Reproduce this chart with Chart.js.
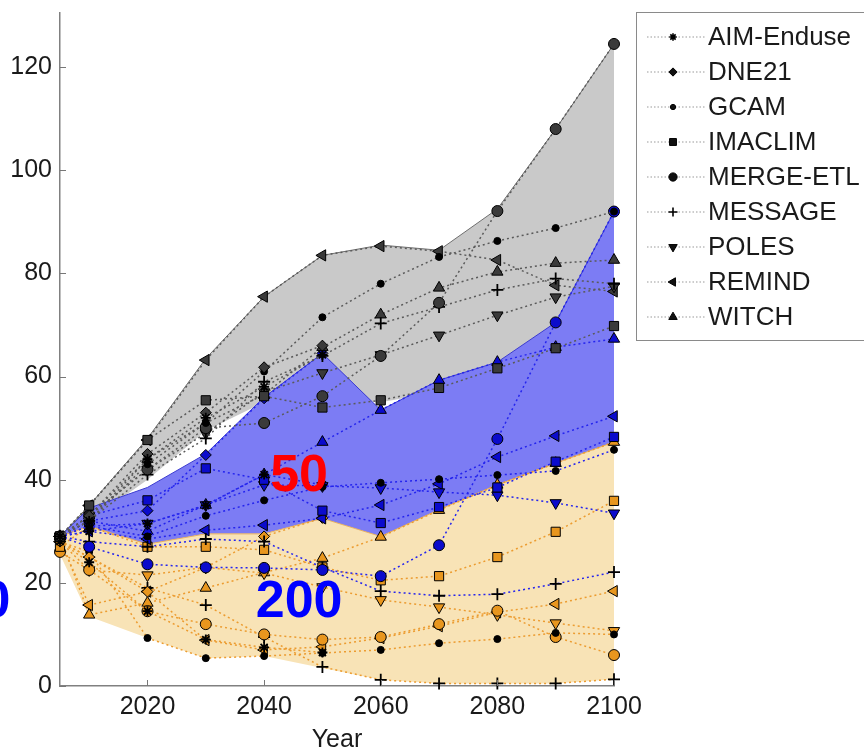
<!DOCTYPE html>
<html>
<head>
<meta charset="utf-8">
<script src="https://cdn.jsdelivr.net/npm/chart.js@4.4.1/dist/chart.umd.min.js"></script>
<style>
  html, body { margin: 0; padding: 0; background: #fff; }
  #wrap { width: 864px; height: 755px; position: relative; }
</style>
</head>
<body>
<div id="wrap"><canvas id="emChart"></canvas></div>
<script>
const years = [2005, 2010, 2020, 2030, 2040, 2050, 2060, 2070, 2080, 2090, 2100];
const xTicks = [2020, 2040, 2060, 2080, 2100];
const yTicks = [0, 20, 40, 60, 80, 100, 120];
const models = ['AIM-Enduse', 'DNE21', 'GCAM', 'IMACLIM', 'MERGE-ETL', 'MESSAGE', 'POLES', 'REMIND', 'WITCH'];

// shaded ranges
const greyUpper   = [29, 35, 48, 63.5, 75.5, 83.5, 85.5, 84.5, 92.5, 108, 124.5];
const greyLower   = [29, 32, 40, 49.5, 55, 56, 55, 57, 60, 64, 68];
const blueUpper   = [29, 34.5, 38.5, 45, 56, 64.5, 53.5, 59.3, 62.8, 70.5, 92];
const blueLower   = [29, 30, 27.5, 29.5, 29.5, 32.5, 29, 34.2, 39, 43.2, 47.3];
const orangeUpper = [29, 31, 27.5, 29.5, 29.5, 32.5, 29, 34.2, 39, 43.2, 47.3];
const orangeLower = [25.5, 13.5, 9.3, 5.4, 5.8, 3.5, 1.2, 0.5, 0.5, 0.5, 1.3];

// model runs, one row per model (same order as models)
const greyRuns = [
  [29, 32, 44, 52, 58, 64.2, null, null, null, null, null],
  [29, 33, 45, 53, 61.8, 66, null, null, null, null, null],
  [29, 32, 43, 51, 61, 71.5, 78, 83.2, 86.3, 88.8, 92],
  [29, 35, 47.7, 55.4, 56.2, 54, 55.4, 57.8, 61.6, 65.5, 69.8],
  [29, 33, 42, 50, 51, 56.2, 64, 74.3, 92.1, 108, 124.5],
  [29, 32, 41, 48, 59, 64, 70.3, 73.5, 76.8, 79, 78],
  [29, 33, 42, 49, 57, 60.7, 64.2, 68, 71.9, 75.4, 77.5],
  [29, 35, 47.7, 63.2, 75.5, 83.5, 85.3, 84.3, 82.6, 77.7, 76.5],
  [29, 33, 44, 51, 56.5, 65.7, 72, 77.2, 80.3, 82, 82.6]
];
const blueRuns = [
  [29, 30, 31.5, 35, 41, 39, null, null, null, null, null],
  [29, 32, 34, 44.8, 55.8, 64.5, null, null, null, null, null],
  [29, 31, 29, 33, 36, 38.6, 39.4, 40.1, 40.9, 41.7, 45.8],
  [29, 33, 36, 42.2, 40, 34, 31.6, 34.7, 38.5, 43.5, 48.3],
  [29, 27, 23.6, 23, 22.9, 22.5, 21.3, 27.3, 47.9, 70.5, 92],
  [29, 28, 27, 28.5, 28, 23, 18.4, 17.5, 17.8, 19.8, 22.1],
  [29, 31, 31.5, 35.1, 39, 38.8, 38.4, 37.6, 37, 35.5, 33.5],
  [29, 30, 28.5, 30.2, 31.2, 32.5, 35.1, 39.2, 44.4, 48.5, 52.3],
  [29, 32, 30, 35.1, 41, 47.3, 53.5, 59.3, 62.8, 65.7, 67.3]
];
const orangeRuns = [
  [28, 24, 14.5, 9, 7.5, 6.5, null, null, null, null, null],
  [28, 25, 18.3, 23, 29, 32.6, null, null, null, null, null],
  [28, 26, 9.3, 5.4, 5.8, 6.4, 7, 8.3, 9.1, 10.3, 10],
  [27, 31, 27, 27, 26.4, 23, 20.5, 21.3, 25, 29.9, 35.9],
  [26, 22.5, 14.5, 12, 10, 9, 9.5, 12, 14.6, 9.5, 6],
  [28, 25, 19, 15.7, 9.5, 3.7, 1.2, 0.5, 0.5, 0.5, 1.3],
  [28, 22.5, 21.5, 23, 21.9, 19.2, 16.7, 15.3, 13.8, 12.2, 10.7],
  [28, 15.7, 18.3, 8.9, 7, 7.6, 9.3, 11.6, 14.3, 15.9, 18.4],
  [29, 13.8, 16.1, 19, 22, 24.8, 28.9, 34.1, 39, 43.2, 47.3]
];

// overlay labels: [text, year, value, colour, align]
const overlayLabels = [
  ['50', 2046, 40.5, '#ff0000', 'center'],
  ['200', 2046, 16.1, '#0000ff', 'center'],
  ['100', 1996.5, 16.1, '#0000ff', 'right']
];

const FONT = "'Liberation Sans', Arial, Helvetica, sans-serif";
Chart.defaults.font.family = FONT;
Chart.defaults.color = '#1a1a1a';

const markers = [
  { style: 'star', radius: 5, rot: 0, stroke: true },
  { style: 'rectRot', radius: 5.5, rot: 0 },
  { style: 'circle', radius: 3.5, rot: 0, black: true },
  { style: 'rect', radius: 6.5, rot: 0 },
  { style: 'circle', radius: 5.5, rot: 0 },
  { style: 'cross', radius: 6, rot: 0, stroke: true },
  { style: 'triangle', radius: 6.5, rot: 180 },
  { style: 'triangle', radius: 6.5, rot: -90 },
  { style: 'triangle', radius: 6.5, rot: 0 }
];

const scenarios = [
  { runs: greyRuns, line: '#5a5a5a', fill: '#3a3a3a' },
  { runs: blueRuns, line: '#2424ee', fill: '#0b0bcc' },
  { runs: orangeRuns, line: '#ec9c30', fill: '#e8961e' }
];

function pts(vals) {
  return years.map((yr, i) => ({ x: yr, y: vals[i] }));
}

function band(upper, lower, color, edge, order) {
  return [
    { data: pts(upper), fill: '+1', backgroundColor: color, borderColor: edge, borderWidth: 1,
      pointRadius: 0, order: order, tension: 0 },
    { data: pts(lower), fill: false, borderColor: edge, borderWidth: 0, pointRadius: 0,
      order: order, tension: 0 }
  ];
}

const datasets = [];
scenarios.forEach(sc => {
  sc.runs.forEach((vals, m) => {
    const mk = markers[m];
    datasets.push({
      label: models[m],
      data: pts(vals),
      borderColor: sc.line,
      borderWidth: 1.5,
      borderDash: [2, 3],
      fill: false,
      tension: 0,
      pointStyle: mk.style,
      pointRadius: mk.radius,
      pointRotation: mk.rot,
      pointBackgroundColor: mk.black ? '#000' : sc.fill,
      pointBorderColor: '#000',
      pointBorderWidth: mk.stroke ? 1.8 : 1,
      order: 0,
      clip: false
    });
  });
});
datasets.push(...band(greyUpper, greyLower, '#c9c9c9', '#6e6e6e', 30));
datasets.push(...band(blueUpper, blueLower, '#7c7cf4', '#3a3ad0', 20));
datasets.push(...band(orangeUpper, orangeLower, '#f8e3b6', '#e8b060', 10));

const overlayPlugin = {
  id: 'overlay',
  afterDatasetsDraw(chart) {
    const { ctx, scales: { x, y }, chartArea } = chart;
    ctx.save();
    // inward ticks
    ctx.strokeStyle = '#777';
    ctx.lineWidth = 1;
    yTicks.forEach(v => {
      const py = Math.round(y.getPixelForValue(v)) + 0.5;
      ctx.beginPath(); ctx.moveTo(chartArea.left, py); ctx.lineTo(chartArea.left + 6, py); ctx.stroke();
    });
    xTicks.forEach(v => {
      const px = Math.round(x.getPixelForValue(v)) + 0.5;
      ctx.beginPath(); ctx.moveTo(px, chartArea.bottom); ctx.lineTo(px, chartArea.bottom - 6); ctx.stroke();
    });
    // big labels
    ctx.font = 'bold 52px ' + FONT;
    ctx.textBaseline = 'middle';
    overlayLabels.forEach(([txt, yr, val, col, align]) => {
      ctx.fillStyle = col;
      ctx.textAlign = align;
      ctx.fillText(txt, x.getPixelForValue(yr), y.getPixelForValue(val));
    });
    ctx.restore();
  },
  afterDraw(chart) {
    const { ctx } = chart;
    ctx.save();
    const bx = 636.5, by = 12.5, bw = 260, bh = 328;
    ctx.fillStyle = '#fff';
    ctx.fillRect(bx, by, bw, bh);
    ctx.strokeStyle = '#8a8a8a';
    ctx.lineWidth = 1;
    ctx.strokeRect(bx, by, bw, bh);
    ctx.font = '26px ' + FONT;
    ctx.textAlign = 'left';
    ctx.textBaseline = 'middle';
    models.forEach((name, i) => {
      const ly = 37 + i * 35;
      ctx.save();
      ctx.strokeStyle = '#999';
      ctx.lineWidth = 1.2;
      ctx.setLineDash([1.5, 2]);
      ctx.beginPath(); ctx.moveTo(647, ly); ctx.lineTo(705, ly); ctx.stroke();
      ctx.restore();
      const mk = markers[i];
      ctx.fillStyle = '#111';
      ctx.strokeStyle = '#000';
      ctx.lineWidth = mk.stroke ? 1.6 : 1;
      Chart.helpers.drawPoint(ctx, {
        pointStyle: mk.style,
        radius: mk.radius * 0.75,
        rotation: mk.rot,
        borderWidth: ctx.lineWidth
      }, 673, ly);
      ctx.fillStyle = '#1a1a1a';
      ctx.fillText(name, 708, ly + 1);
    });
    ctx.restore();
  }
};

function noEdgePadding(s) {
  s.paddingTop = 0; s.paddingBottom = 0; s.paddingLeft = 0; s.paddingRight = 0;
}

new Chart(document.getElementById('emChart'), {
  type: 'line',
  data: { datasets: datasets },
  options: {
    responsive: true,
    maintainAspectRatio: false,
    animation: false,
    layout: { padding: { left: 0, right: 250, top: 13, bottom: 0 } },
    plugins: { legend: { display: false }, tooltip: { enabled: false } },
    scales: {
      x: {
        type: 'linear',
        min: 2005,
        max: 2100,
        afterBuildTicks: s => { s.ticks = xTicks.map(v => ({ value: v })); },
        afterFit: s => { s.height = 69; noEdgePadding(s); },
        grid: { drawOnChartArea: false, drawTicks: false },
        border: { color: '#808080', width: 1.5 },
        ticks: { padding: 6, font: { size: 25 }, color: '#1a1a1a', maxRotation: 0,
                 callback: v => String(v) },
        title: { display: true, text: 'Year', font: { size: 25 }, color: '#1a1a1a', padding: 0 }
      },
      y: {
        min: 0,
        max: 130.5,
        afterBuildTicks: s => { s.ticks = yTicks.map(v => ({ value: v })); },
        afterFit: s => { s.width = 60; noEdgePadding(s); },
        grid: { drawOnChartArea: false, drawTicks: false },
        border: { color: '#808080', width: 1.5 },
        ticks: { padding: 8, font: { size: 25 }, color: '#1a1a1a', callback: v => String(v) }
      }
    }
  },
  plugins: [overlayPlugin]
});
</script>
</body>
</html>
